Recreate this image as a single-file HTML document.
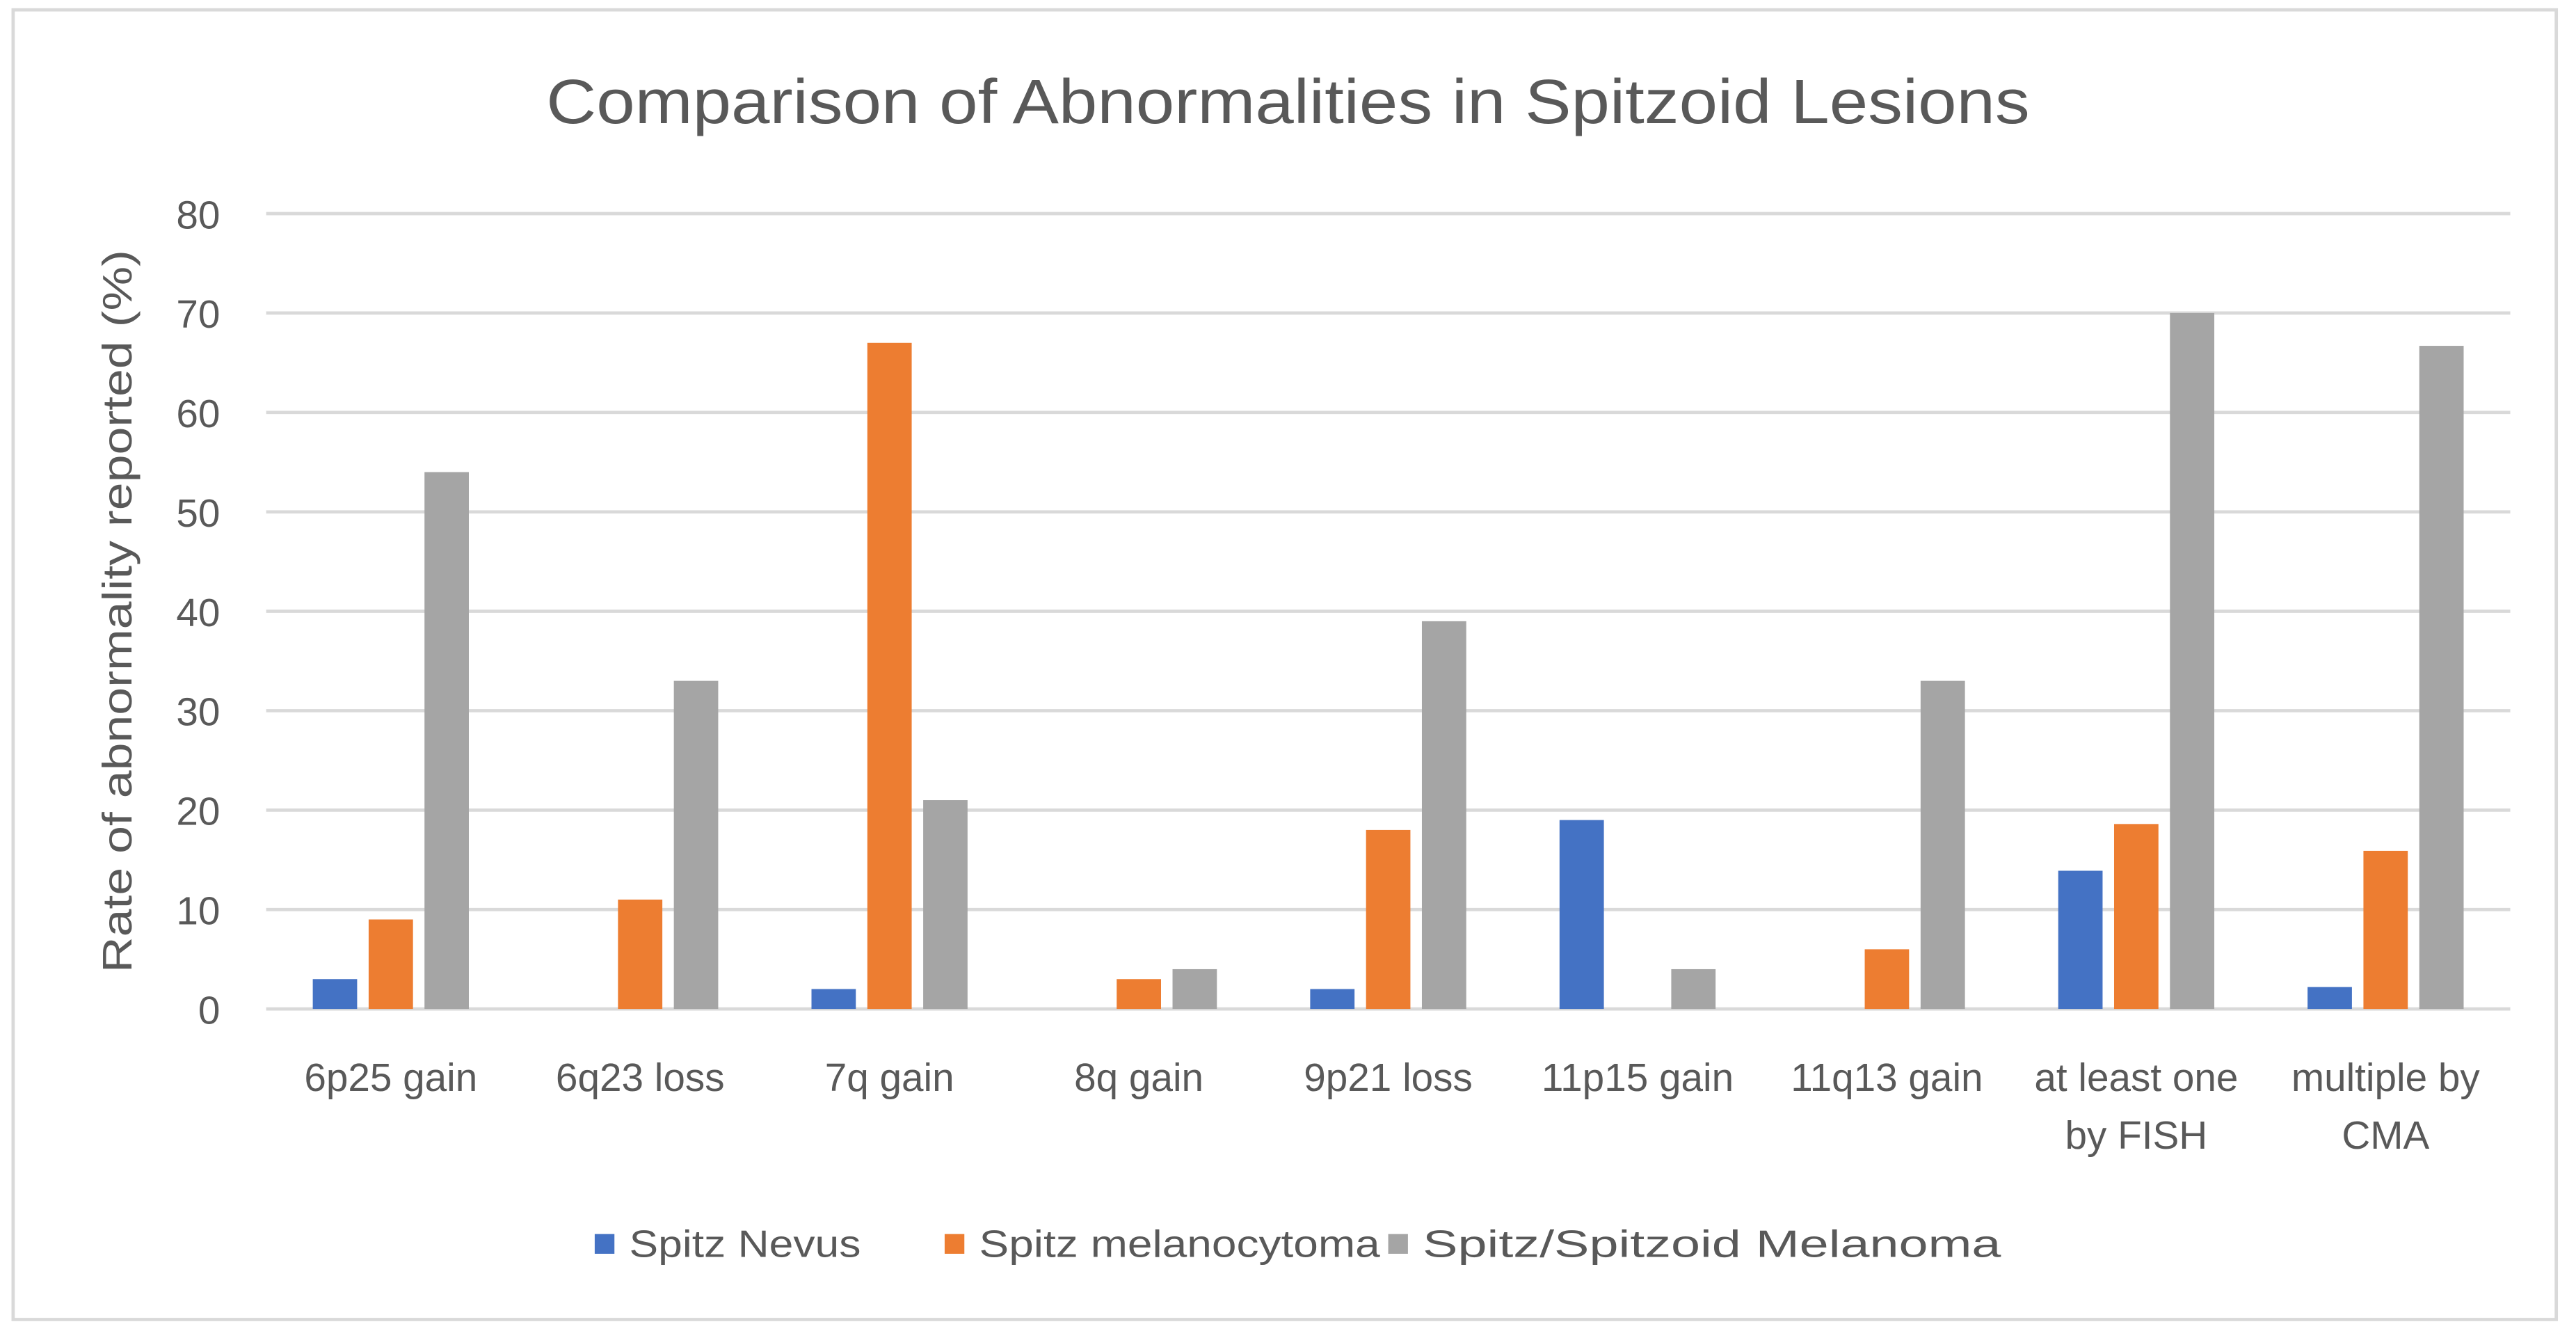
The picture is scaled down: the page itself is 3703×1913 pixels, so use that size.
<!DOCTYPE html>
<html><head><meta charset="utf-8"><style>
html,body{margin:0;padding:0;background:#fff;}
svg{display:block;font-family:"Liberation Sans",sans-serif;}
</style></head><body>
<svg id="chart" width="3703" height="1913" viewBox="0 0 1568 810" preserveAspectRatio="none" xmlns="http://www.w3.org/2000/svg">
<rect x="8" y="6" width="1548" height="797" fill="#fff" stroke="#d9d9d9" stroke-width="2"/>
<text x="784" y="75" text-anchor="middle" font-size="38" fill="#595959" textLength="903" lengthAdjust="spacingAndGlyphs">Comparison of Abnormalities in Spitzoid Lesions</text>
<text transform="translate(80,372) rotate(-90)" text-anchor="middle" font-size="25" fill="#595959" textLength="440" lengthAdjust="spacingAndGlyphs">Rate of abnormality reported (%)</text>
<g id="grid"></g><g id="bars"></g><g id="xlabels"></g>
<g>
<rect x="362" y="751" width="12" height="12" fill="#4472c4"/>
<text x="383" y="765" font-size="23" fill="#595959" textLength="141" lengthAdjust="spacingAndGlyphs">Spitz Nevus</text>
<rect x="575" y="751" width="12" height="12" fill="#ed7d31"/>
<text x="596" y="765" font-size="23" fill="#595959" textLength="244" lengthAdjust="spacingAndGlyphs">Spitz melanocytoma</text>
<rect x="845" y="751" width="12" height="12" fill="#a5a5a5"/>
<text x="866" y="765" font-size="23" fill="#595959" textLength="352" lengthAdjust="spacingAndGlyphs">Spitz/Spitzoid Melanoma</text>
</g>
</svg>
<script>
const categories = [["6p25 gain"],["6q23 loss"],["7q gain"],["8q gain"],["9p21 loss"],["11p15 gain"],["11q13 gain"],["at least one","by FISH"],["multiple by","CMA"]];
const spitzNevus = [3,0,2,0,2,19,0,13.9,2.2];
const spitzMelanocytoma = [9,11,67,3,18,0,6,18.6,15.9];
const spitzoidMelanoma = [54,33,21,4,39,4,33,70,66.7];
const yTicks = [0,10,20,30,40,50,60,70,80];
const NS="http://www.w3.org/2000/svg";
const x0=162,x1=1528,y0=614,yTop=130,yMax=80;
const band=(x1-x0)/categories.length;
function yScale(v){return y0-(v/yMax)*(y0-yTop);}
function xCenter(i){return x0+band*(i+0.5);}
function mk(tag,attrs){const e=document.createElementNS(NS,tag);for(const k in attrs)e.setAttribute(k,attrs[k]);return e;}
const grid=document.getElementById('grid');
yTicks.forEach(t=>{
  const l=mk('line',{x1:x0,x2:x1,y1:yScale(t),y2:yScale(t),stroke:'#d9d9d9','stroke-width':2});
  
  
  grid.appendChild(l);
  const tx=mk('text',{x:134,y:yScale(t)+9,'text-anchor':'end','font-size':24,fill:'#595959'});
  
  
  tx.textContent=t;grid.appendChild(tx);
});
const series=[[spitzNevus,'#4472c4','spitz-nevus'],[spitzMelanocytoma,'#ed7d31','spitz-melanocytoma'],[spitzoidMelanoma,'#a5a5a5','spitzoid-melanoma']];
const bw=27,gap=7;
const bars=document.getElementById('bars');
categories.forEach((c,i)=>{
  series.forEach((s,j)=>{
    const v=s[0][i];
    const x=xCenter(i)+(j-1)*(bw+gap)-bw/2;
    const r=mk('rect',{x:x,y:yScale(v),width:bw,height:y0-yScale(v),fill:s[1]});
    
    
    bars.appendChild(r);
  });
  const xl=document.getElementById('xlabels');
  c.forEach((line,k)=>{
    const t=mk('text',{x:xCenter(i),y:664+k*35,'text-anchor':'middle','font-size':24,fill:'#595959'});
    
    
    t.textContent=line;xl.appendChild(t);
  });
});
</script>
</body></html>
